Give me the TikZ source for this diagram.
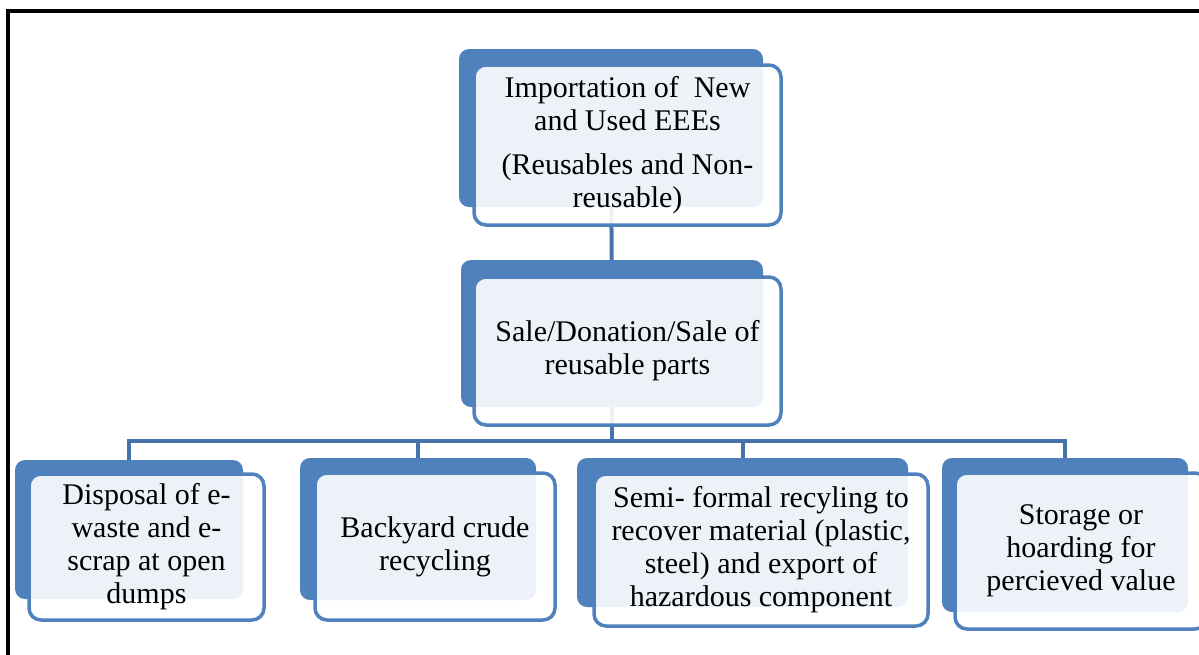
\documentclass[tikz,border=0pt]{standalone}
\usepackage{fontspec}
\setmainfont{Liberation Serif}
\usetikzlibrary{backgrounds}
\definecolor{boxblue}{HTML}{4F81BD}
\definecolor{lineblue}{HTML}{4673AC}
\tikzset{
  backbox/.style={fill=boxblue, rounded corners=10pt, inner sep=0pt},
  frontbox/.style={draw=boxblue, line width=3.5pt, fill=white, fill opacity=0.9,
    text opacity=1, rounded corners=12pt, inner sep=0pt, align=center,
    font=\fontsize{30}{33}\selectfont},
  link/.style={draw=lineblue, line width=4pt},
}
\begin{document}
\begin{tikzpicture}[x=1pt,y=-1pt]
\useasboundingbox (0,0) rectangle (1199,654);
\clip (0,0) rectangle (1199,654);
% outer frame
\draw[line width=4pt] (8,656) -- (8,11) -- (1201,11);
% back boxes
\node[backbox, minimum width=304pt, minimum height=158pt] (b1) at (611,128) {};
\node[backbox, minimum width=302pt, minimum height=147pt] (b2) at (612,333.5) {};
\node[backbox, minimum width=228pt, minimum height=139pt] (bA) at (129,529.5) {};
\node[backbox, minimum width=236pt, minimum height=142pt] (bB) at (418,529) {};
\node[backbox, minimum width=331pt, minimum height=149pt] (bC) at (742.5,532.5) {};
\node[backbox, minimum width=246pt, minimum height=154pt] (bD) at (1065,535) {};
% front boxes
\node[frontbox, minimum width=307pt, minimum height=160pt] (f1) at (627.5,145)
  {Importation of~ New\\and Used EEEs\\[11pt](Reusables and Non-\\reusable)};
\node[frontbox, minimum width=307pt, minimum height=148pt] (f2) at (627.5,351)
  {Sale/Donation/Sale of\\reusable parts};
\node[frontbox, minimum width=235pt, minimum height=146pt] (fA) at (146.5,547)
  {Disposal of e-\\waste and e-\\scrap at open\\dumps};
\node[frontbox, minimum width=240pt, minimum height=147pt] (fB) at (435,546.5)
  {Backyard crude\\recycling};
\node[frontbox, minimum width=334pt, minimum height=152pt] (fC) at (761,550)
  {Semi- formal recyling to\\recover material (plastic,\\steel) and export of\\hazardous component};
\node[frontbox, minimum width=252pt, minimum height=156pt] (fD) at (1081,551)
  {Storage or\\hoarding for\\percieved value};
\coordinate (bus) at (612,441);
% connectors
\begin{scope}[on background layer]
\draw[link] (b1.center) -- (b2.center);
\draw[link] (b2.center) -- (bus);
\draw[link] ([yshift=-5pt]bA.north) |- (bus) -| ([yshift=-5pt]bD.north);
\draw[link] (bus -| bB.north) -- ([yshift=-5pt]bB.north);
\draw[link] (bus -| bC.north) -- ([yshift=-5pt]bC.north);
\end{scope}
\end{tikzpicture}
\end{document}
